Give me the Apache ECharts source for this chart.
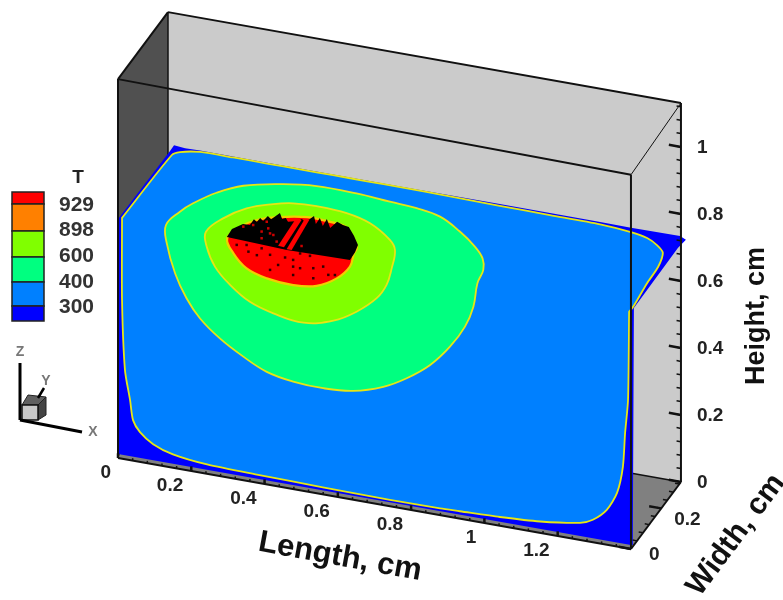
<!DOCTYPE html>
<html lang="en">
<head>
    <meta charset="UTF-8">
    <title>T contours</title>
    <style>
        html, body{
            margin: 0;
            background: #fff;
        }
        #content{
            width: 783px;
            height: 600px;
        }
    </style>
</head>
<body>
    <div id="content"></div>

    <script src="https://cdn.jsdelivr.net/npm/echarts@6/dist/echarts.min.js"></script>
    <script>
        // contour outlines, as [length cm, height cm] on the front face
        var band300 = [[0,0.012],[1.4,0.012],[1.405,0.013],[1.408,0.721],[1.528,0.923],[1.55,0.952],[1.534,0.96],[1.4,0.959],[1.316,0.96],[1.179,0.96],[1.042,0.96],[0.906,0.96],[0.77,0.96],[0.587,0.96],[0.407,0.96],[0.314,0.961],[0.224,0.961],[0.183,0.96],[0.153,0.963],[0.142,0.944],[0.005,0.721],[0,0.713]];
        var band400 = [[0.011,0.719],[0.011,0.719],[0.147,0.933],[0.169,0.946],[0.224,0.957],[0.314,0.958],[0.407,0.958],[0.497,0.958],[0.587,0.958],[0.68,0.958],[0.77,0.958],[0.906,0.957],[1.042,0.955],[1.179,0.954],[1.316,0.953],[1.4,0.946],[1.444,0.937],[1.471,0.921],[1.487,0.901],[1.474,0.856],[1.444,0.802],[1.406,0.724],[1.395,0.707],[1.395,0.707],[1.392,0.443],[1.384,0.343],[1.378,0.241],[1.362,0.16],[1.334,0.104],[1.296,0.067],[1.261,0.051],[1.152,0.034],[1.042,0.026],[0.933,0.022],[0.879,0.02],[0.742,0.019],[0.559,0.021],[0.379,0.024],[0.243,0.028],[0.15,0.04],[0.096,0.06],[0.06,0.089],[0.041,0.121],[0.033,0.179],[0.019,0.266],[0.011,0.474]];
        var band600 = [[0.131,0.721],[0.133,0.667],[0.156,0.581],[0.187,0.513],[0.224,0.46],[0.278,0.411],[0.342,0.369],[0.406,0.336],[0.478,0.321],[0.56,0.317],[0.642,0.325],[0.724,0.353],[0.788,0.391],[0.852,0.443],[0.906,0.508],[0.947,0.576],[0.97,0.64],[0.981,0.712],[0.997,0.755],[0.995,0.789],[0.974,0.82],[0.933,0.857],[0.879,0.891],[0.815,0.904],[0.742,0.909],[0.651,0.916],[0.542,0.917],[0.451,0.905],[0.342,0.879],[0.269,0.844],[0.205,0.8],[0.169,0.768]];
        var band898 = [[0.24,0.722],[0.242,0.678],[0.265,0.622],[0.306,0.576],[0.36,0.536],[0.424,0.514],[0.506,0.502],[0.588,0.524],[0.651,0.563],[0.706,0.614],[0.733,0.659],[0.747,0.711],[0.756,0.767],[0.742,0.795],[0.688,0.834],[0.624,0.852],[0.542,0.857],[0.478,0.853],[0.424,0.84],[0.351,0.813],[0.287,0.771]];
        var band929 = [[0.298,0.714],[0.315,0.672],[0.351,0.634],[0.406,0.615],[0.478,0.609],[0.542,0.619],[0.597,0.652],[0.633,0.694],[0.644,0.736],[0.652,0.756],[0.625,0.808],[0.579,0.817],[0.516,0.819],[0.442,0.805],[0.379,0.784],[0.333,0.754]];

        // the part of the hot spot hidden under dense mesh lines
        var meshArea = [[0.297,0.717],[0.311,0.744],[0.341,0.765],[0.36,0.765],[0.371,0.785],[0.379,0.778],[0.388,0.792],[0.396,0.784],[0.409,0.802],[0.418,0.794],[0.442,0.817],[0.448,0.8],[0.458,0.805],[0.464,0.795],[0.491,0.803],[0.502,0.811],[0.508,0.806],[0.521,0.812],[0.535,0.826],[0.54,0.803],[0.551,0.823],[0.559,0.801],[0.57,0.824],[0.579,0.799],[0.598,0.821],[0.614,0.815],[0.63,0.812],[0.644,0.788],[0.655,0.763],[0.647,0.74],[0.633,0.714],[0.461,0.71]];
        var meshGap1 = [[0.437,0.718],[0.453,0.717],[0.501,0.808],[0.483,0.804]];
        var meshGap2 = [[0.46,0.712],[0.474,0.713],[0.522,0.812],[0.508,0.809]];
        var meshDots = [[0.356,0.685],[0.379,0.679],[0.415,0.687],[0.456,0.687],[0.478,0.684],[0.437,0.661],[0.478,0.664],[0.497,0.663],[0.533,0.67],[0.415,0.642],[0.478,0.639],[0.533,0.64],[0.574,0.658],[0.592,0.661],[0.56,0.68],[0.324,0.699],[0.351,0.704],[0.392,0.702],[0.497,0.707],[0.524,0.705]];
        var redDots = [[0.342,0.757],[0.369,0.767],[0.41,0.765],[0.392,0.752],[0.415,0.751],[0.424,0.748],[0.392,0.732],[0.433,0.73],[0.501,0.73],[0.406,0.784]];

        // box size in cm
        var boxLength = 1.4;
        var boxWidth = 0.33;
        var boxHeight = 1.131;
        var boxHeightFront = 1.117;

        var lengthTicks = [0, 0.2, 0.4, 0.6, 0.8, 1, 1.2];
        var heightTicks = [0, 0.2, 0.4, 0.6, 0.8, 1];
        var widthTicks = [0, 0.2];

        var legendLevels = ['929', '898', '600', '400', '300'];
        var legendColors = ['#ff0000', '#ff8000', '#80ff00', '#00ff80', '#0080ff', '#0000ff'];
        var legendEdges = [192, 204, 231, 257, 282, 306, 321];
        var legendTextY = [205, 230, 256, 282, 307];

        var font = '"Liberation Sans", Arial, sans-serif';

        // oblique view of the box: cm in, flat chart units out
        function project(l, w, h) {
            return [l + 0.4135 * w, h - 0.194 * l + 0.606 * w];
        }

        function front(list) {
            return list.map(function (p) { return project(p[0], 0, p[1]); });
        }

        function area(points, fill, stroke, lineWidth, smooth) {
            return {
                type: 'custom',
                coordinateSystem: 'cartesian2d',
                silent: true,
                clip: false,
                data: [[0, 0]],
                renderItem: function (params, api) {
                    return {
                        type: 'polygon',
                        shape: { points: points.map(function (p) { return api.coord(p); }), smooth: smooth || 0 },
                        style: { fill: fill, stroke: stroke || null, lineWidth: lineWidth || 0 }
                    };
                }
            };
        }

        function segments(list) {
            return {
                type: 'custom',
                coordinateSystem: 'cartesian2d',
                silent: true,
                clip: false,
                data: [[0, 0]],
                renderItem: function (params, api) {
                    return {
                        type: 'group',
                        children: list.map(function (s) {
                            var a = api.coord(s.from), b = api.coord(s.to);
                            return {
                                type: 'line',
                                shape: { x1: a[0], y1: a[1], x2: b[0], y2: b[1] },
                                style: { stroke: s.color || '#111', lineWidth: s.width || 1.5 }
                            };
                        })
                    };
                }
            };
        }

        function labels(list) {
            return {
                type: 'custom',
                coordinateSystem: 'cartesian2d',
                silent: true,
                clip: false,
                data: [[0, 0]],
                renderItem: function (params, api) {
                    return {
                        type: 'group',
                        children: list.map(function (t) {
                            var c = api.coord(t.at);
                            return {
                                type: 'text',
                                x: c[0] + t.dx,
                                y: c[1] + t.dy,
                                style: {
                                    text: t.text, fill: '#222', align: t.align, verticalAlign: 'middle',
                                    font: 'bold 19px ' + font
                                }
                            };
                        })
                    };
                }
            };
        }

        function dots(list, color) {
            return {
                type: 'scatter',
                silent: true,
                symbol: 'rect',
                symbolSize: 2.5,
                itemStyle: { color: color },
                data: front(list)
            };
        }

        var L = boxLength, W = boxWidth, H = boxHeight;

        var series = [
            area([project(0, W, 0), project(L, W, 0), project(L, W, H), project(0, W, H)], '#cbcbcb'),
            area([project(0, 0, 0), project(0, W, 0), project(0, W, H), project(0, 0, H)], '#505050'),
            area([project(0, 0, 0), project(L, 0, 0), project(L, W, 0), project(0, W, 0)], '#808080'),
            segments([
                { from: project(0, W, 0), to: project(0, W, H) },
                { from: project(0, W, H), to: project(L, W, H), width: 2 },
                { from: project(L, W, 0), to: project(0, W, 0) }
            ]),
            area(front(band300), '#0000ff'),
            area(front(band400), '#0080ff', '#e6e614', 1.8, 0.25),
            area(front(band600), '#00ff80', '#e6e614', 1.8, 0.4),
            area(front(band898), '#80ff00', '#e6e614', 1.8, 0.4),
            area(front(band929), '#ff0000', '#f0d000', 2.2, 0.4),
            area(front(meshArea), '#000'),
            area(front(meshGap1), '#ff0000'),
            area(front(meshGap2), '#ff0000'),
            dots(meshDots, '#000'),
            dots(redDots, '#ff0000')
        ];

        // box edges in front of the contours
        var edges = [
            { from: project(0, 0, 0), to: project(0, 0, H), width: 2 },
            { from: project(0, 0, H), to: project(L, 0, boxHeightFront), width: 2 },
            { from: project(L, 0, 0), to: project(L, 0, boxHeightFront), width: 2 },
            { from: project(0, 0, H), to: project(0, W, H), width: 2 },
            { from: project(L, 0, boxHeightFront), to: project(L, W, H), width: 1 },
            { from: project(0, 0, 0), to: project(L, 0, 0), width: 2 },
            { from: project(L, 0, 0), to: project(L, W, 0), width: 2 },
            { from: project(L, W, 0), to: project(L, W, H), width: 2 }
        ];

        // minor ticks every 0.04 cm on all three axes
        var t;
        for (t = 0; t <= L + 0.001; t += 0.04) {
            edges.push({ from: project(t, 0, 0), to: project(t, 0, 0.007), width: 1.5 });
        }
        for (t = 0; t <= H; t += 0.04) {
            edges.push({ from: project(L, W, t), to: project(L - 0.012, W, t), width: 1.5 });
        }
        for (t = 0; t <= W; t += 0.04) {
            edges.push({ from: project(L, t, 0), to: project(L - 0.012, t, 0), width: 1.5 });
        }
        lengthTicks.forEach(function (v) {
            edges.push({ from: project(v, 0, 0), to: project(v, 0, 0.014), width: 2.5 });
        });
        heightTicks.forEach(function (v) {
            edges.push({ from: project(L, W, v), to: project(L - 0.033, W, v), width: 2.5 });
        });
        widthTicks.forEach(function (v) {
            edges.push({ from: project(L, v, 0), to: project(L - 0.033, v, 0), width: 2.5 });
        });
        series.push(segments(edges));

        var tickLabels = [];
        lengthTicks.forEach(function (v) {
            tickLabels.push({ at: project(v, 0, 0), text: String(v), align: 'right', dx: v === 0 ? -7 : -8, dy: 15 });
        });
        heightTicks.forEach(function (v) {
            tickLabels.push({ at: project(L, W, v), text: String(v), align: 'left', dx: 16, dy: 1 });
        });
        widthTicks.forEach(function (v) {
            tickLabels.push({ at: project(L, v, 0), text: String(v), align: 'left', dx: v === 0 ? 18 : 13, dy: v === 0 ? 6 : 11 });
        });
        series.push(labels(tickLabels));

        // legend and the small orientation triad
        var graphics = [];
        legendColors.forEach(function (c, i) {
            graphics.push({
                type: 'rect',
                shape: { x: 12, y: legendEdges[i], width: 32, height: legendEdges[i + 1] - legendEdges[i] },
                style: { fill: c, stroke: '#222', lineWidth: 1.5 }
            });
        });
        legendLevels.forEach(function (s, i) {
            graphics.push({
                type: 'text', x: 59, y: legendTextY[i],
                style: { text: s, fill: '#333', verticalAlign: 'middle', font: 'bold 21px ' + font }
            });
        });
        graphics.push({
            type: 'text', x: 78, y: 178,
            style: { text: 'T', fill: '#222', align: 'center', verticalAlign: 'middle', font: 'bold 19px ' + font }
        });
        graphics.push(
            { type: 'polygon', shape: { points: [[22, 405], [28, 395], [46, 397], [38, 405]] }, style: { fill: '#606060', stroke: '#222', lineWidth: 1 } },
            { type: 'polygon', shape: { points: [[38, 405], [46, 397], [46, 415], [38, 420]] }, style: { fill: '#444', stroke: '#222', lineWidth: 1 } },
            { type: 'rect', shape: { x: 22, y: 405, width: 16, height: 15 }, style: { fill: '#c8c8c8', stroke: '#111', lineWidth: 1.5 } },
            { type: 'line', shape: { x1: 20, y1: 363, x2: 20, y2: 420 }, style: { stroke: '#000', lineWidth: 3 } },
            { type: 'line', shape: { x1: 20, y1: 420, x2: 82, y2: 432 }, style: { stroke: '#000', lineWidth: 3 } },
            { type: 'line', shape: { x1: 38, y1: 398, x2: 44, y2: 388 }, style: { stroke: '#000', lineWidth: 2.5 } },
            { type: 'text', x: 20, y: 352, style: { text: 'Z', fill: '#777', align: 'center', verticalAlign: 'middle', font: 'bold 14px ' + font } },
            { type: 'text', x: 46, y: 381, style: { text: 'Y', fill: '#777', align: 'center', verticalAlign: 'middle', font: 'bold 14px ' + font } },
            { type: 'text', x: 93, y: 432, style: { text: 'X', fill: '#777', align: 'center', verticalAlign: 'middle', font: 'bold 14px ' + font } }
        );
        // axis titles
        graphics.push(
            { type: 'text', x: 340, y: 557, rotation: -0.18, style: { text: 'Length, cm', fill: '#111', align: 'center', verticalAlign: 'middle', font: 'bold 31px ' + font } },
            { type: 'text', x: 757, y: 316, rotation: Math.PI / 2, style: { text: 'Height, cm', fill: '#111', align: 'center', verticalAlign: 'middle', font: 'bold 27px ' + font } },
            { type: 'text', x: 736, y: 535, rotation: 0.93, style: { text: 'Width, cm', fill: '#111', align: 'center', verticalAlign: 'middle', font: 'bold 30px ' + font } }
        );

        var myChart = echarts.init(document.getElementById('content'));
        myChart.setOption({
            animation: false,
            grid: { left: 0, right: 0, top: 0, bottom: 0 },
            xAxis: { type: 'value', show: false, min: -0.32205, max: 1.81496 },
            yAxis: { type: 'value', show: false, min: -0.42388, max: 1.36716 },
            graphic: graphics,
            series: series
        });
    </script>
</body>
</html>
